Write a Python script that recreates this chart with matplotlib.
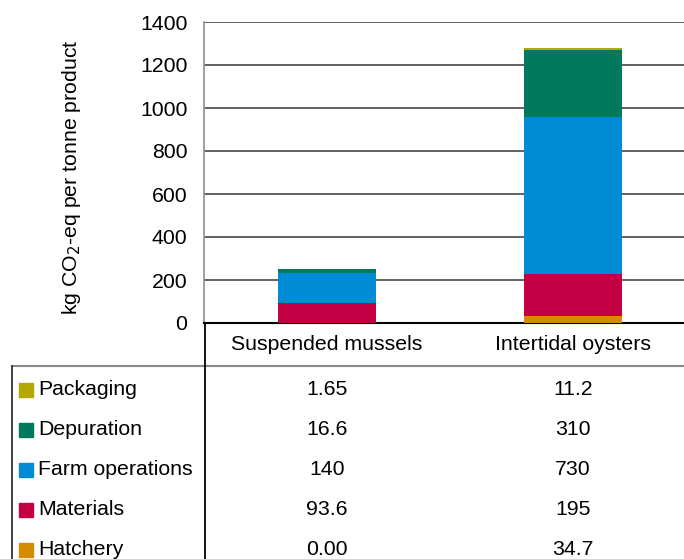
import matplotlib.pyplot as plt
from matplotlib.transforms import blended_transform_factory
from matplotlib.lines import Line2D
import numpy as np

plt.rcParams['font.family'] = ['Liberation Sans', 'DejaVu Sans']

categories = ["Suspended mussels", "Intertidal oysters"]
stages = ["Hatchery", "Materials", "Farm operations", "Depuration", "Packaging"]
hatchery = [0.00, 34.7]
materials = [93.6, 195]
farm_ops = [140, 730]
depuration = [16.6, 310]
packaging = [1.65, 11.2]
labels_txt = {
    "Packaging": ["1.65", "11.2"],
    "Depuration": ["16.6", "310"],
    "Farm operations": ["140", "730"],
    "Materials": ["93.6", "195"],
    "Hatchery": ["0.00", "34.7"],
}
colors = ["#D58B00", "#C30044", "#008BD5", "#00795C", "#B5A800"]
yticks = [0, 200, 400, 600, 800, 1000, 1200, 1400]

FS = 15.3
W, H = 684, 559
fig = plt.figure(figsize=(W / 100, H / 100), dpi=100)

# axes runs slightly past the right edge of the figure, like the source image
left, right, top, bottom = 204, 696, 22, 323
ax = fig.add_axes([left / W, 1 - bottom / H, (right - left) / W, (bottom - top) / H])

x = np.arange(len(categories))
series = [hatchery, materials, farm_ops, depuration, packaging]
base = np.zeros(len(categories))
for vals, col, name in zip(series, colors, stages):
    ax.bar(x, vals, 0.4, bottom=base, color=col, label=name, zorder=3)
    base += np.array(vals)

ax.set_xlim(-0.5, 1.5)
ax.set_ylim(0, 1400)
ax.set_yticks(yticks)
ax.yaxis.grid(True, color="#555555", lw=1.3, zorder=0)
ax.set_xticks([])
ax.tick_params(axis="y", length=0, pad=12, labelsize=FS)
for s in ["top", "right"]:
    ax.spines[s].set_visible(False)
ax.spines["left"].set_color("#999999")
ax.spines["left"].set_linewidth(1.3)
ax.spines["bottom"].set_color("black")
ax.spines["bottom"].set_linewidth(1.5)
ax.set_ylabel("kg CO$_2$-eq per tonne product", fontsize=FS)
ax.yaxis.set_label_coords((72 - left) / (right - left), (bottom - 177) / (bottom - top))
ax.yaxis.label.set_verticalalignment("center")

# table below the chart
tr = blended_transform_factory(ax.transData, fig.transFigure)

def fy(py):
    return 1 - py / H

for i, c in enumerate(categories):
    ax.text(x[i], fy(350), c, transform=tr, ha="center", va="baseline", fontsize=FS)

row_names = ["Packaging", "Depuration", "Farm operations", "Materials", "Hatchery"]
row_colors = {n: c for n, c in zip(stages, colors)}
for r, name in enumerate(row_names):
    base_y = fy(395 + 40 * r)
    fig.add_artist(plt.Rectangle((19 / W, fy(397 + 40 * r)), 14 / W, 14 / H,
                                 color=row_colors[name], transform=fig.transFigure))
    fig.text(38 / W, base_y, name, ha="left", va="baseline", fontsize=FS)
    for i in range(len(categories)):
        ax.text(x[i], base_y, labels_txt[name][i], transform=tr, ha="center",
                va="baseline", fontsize=FS)

fig.add_artist(Line2D([12 / W, 1], [fy(366), fy(366)], color="#888888", lw=1.5,
                      transform=fig.transFigure))
fig.add_artist(Line2D([205 / W, 205 / W], [fy(323), 0], color="black", lw=1.3,
                      transform=fig.transFigure))
fig.add_artist(Line2D([12 / W, 12 / W], [fy(366), 0], color="#333333", lw=1.3,
                      transform=fig.transFigure))

fig.savefig("out.png", dpi=100)
